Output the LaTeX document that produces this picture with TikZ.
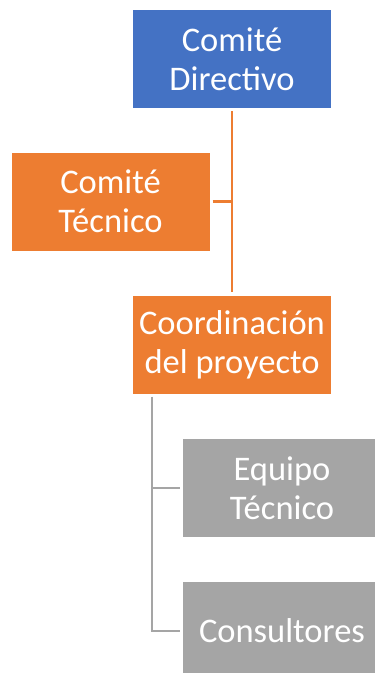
\documentclass[tikz,border=0pt]{standalone}
\usepackage{fontspec}
\setmainfont{Carlito}
\usetikzlibrary{calc}

\definecolor{orgblue}{HTML}{4472C4}
\definecolor{orgorange}{HTML}{ED7D31}
\definecolor{orggray}{HTML}{A5A5A5}

\tikzset{
  unitbox/.style={minimum width=198pt, minimum height=98pt, inner sep=0pt,
    align=center, text=white, font=\fontsize{34.5}{39}\selectfont},
  orgline/.style={draw=orgorange, line width=2.2pt},
  grayline/.style={draw=orggray, line width=2.2pt}
}

\begin{document}
\begin{tikzpicture}[x=1pt,y=-1pt]
\useasboundingbox (0,0) rectangle (375,673);
\clip (0,0) rectangle (375,673);
% Boxes
\node[unitbox, fill=orgblue] (dir) at (232,59) {Comité\\Directivo};
\node[unitbox, fill=orgorange] (tec) at (110.5,201.5) {Comité\\Técnico};
\node[unitbox, fill=orgorange] (coord) at (232,344.5) {Coordinación\\del proyecto};
\node[unitbox, fill=orggray] (equ) at (282,488) {Equipo\\Técnico};
\node[unitbox, fill=orggray] (cons) at (282,631) {Consultores};
% Orange connectors
\draw[orgline] ([yshift=-3pt]dir.south) -- ([yshift=3pt]coord.north);
\draw[orgline] ([xshift=3pt]tec.east) -- (tec.east -| dir.south);
% Gray connectors
\coordinate (trunk) at ([xshift=19pt,yshift=-3pt]coord.south west);
\draw[grayline] (trunk) |- ([xshift=-3pt]cons.west);
\draw[grayline] (trunk |- equ.west) -- ([xshift=-3pt]equ.west);
\end{tikzpicture}
\end{document}
